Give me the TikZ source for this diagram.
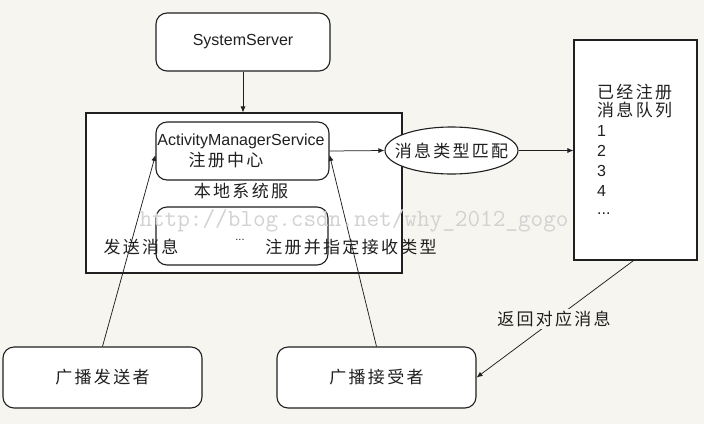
\documentclass[tikz,border=0pt]{standalone}
\usepackage{fontspec}
\setmainfont{Liberation Sans}
\newfontfamily\cjk{Noto Sans CJK SC}[LetterSpace=13.5]
\usetikzlibrary{arrows.meta,shapes.geometric}
\definecolor{bg}{HTML}{F7F5EF}
\definecolor{ink}{HTML}{202020}
\definecolor{wm}{HTML}{D2D2D2}
\begin{document}
\begin{tikzpicture}[x=1pt,y=-1pt,
  box/.style={draw=ink, line width=1.1pt, fill=white, inner sep=0pt},
  rbox/.style={box, rounded corners=11pt},
  lat/.style={font=\fontsize{16}{18}\selectfont, text=ink, inner sep=0pt},
  cn/.style={font=\cjk\fontsize{17}{19}\selectfont, text=ink, inner sep=0pt},
  conn/.style={draw=ink, line width=0.75pt, -{Latex[length=6pt,width=5pt]}},
]
\useasboundingbox[fill=bg] (0,0) rectangle (704,424);

% boxes
\node[rbox, minimum width=174pt, minimum height=58pt] (ss) at (243,42) {};
\node[box, minimum width=316pt, minimum height=160pt] (outer) at (244,193) {};
\node[rbox, minimum width=173pt, minimum height=58pt] (ams) at (242.5,151) {};
\node[rbox, minimum width=172pt, minimum height=58pt] (inner) at (242,236) {};
\node[box, minimum width=123pt, minimum height=220pt] (queue) at (635.5,150) {};
\node[rbox, minimum width=199pt, minimum height=61pt] (sender) at (102.5,377.5) {};
\node[rbox, minimum width=199pt, minimum height=61pt] (recv) at (376.5,377.5) {};

% connectors
\draw[conn] (ss.south) -- (ss.south |- outer.north);
\draw[conn] (sender.north) -- ([yshift=-4pt]ams.west);
\draw[conn] (recv.north) -- ([yshift=-4pt]ams.east);
\draw[conn] ([xshift=-2pt]queue.south) -- (recv.east);

\node[box, ellipse, minimum width=133pt, minimum height=47pt] (match) at (451.5,150.5) {};
\node[cn] (matchtxt) at (match.center) {消息类型匹配};
\draw[conn] (ams.east) -- (match.west);
\draw[conn] (match.east) -- (match.east -| queue.west);

% texts
\node[lat] (sstxt) at (243,42) {SystemServer};
\node[lat] (amstxt) at (241,141) {ActivityManagerService};
\node[cn] (regc) at (226,160) {注册中心};
\node[cn] (local) at (241,191) {本地系统服};
\node[font=\ttfamily\fontsize{24.5}{26}\selectfont, text=wm, inner sep=0pt] (wmark) at (354,221) {http://blog.csdn.net/why\_2012\_gogo};
\node[font=\fontsize{11}{12}\selectfont, text=ink, inner sep=0pt] (dots) at (240,240) {...};
\node[cn] (send) at (141,247) {发送消息};
\node[cn] (reg) at (351,247) {注册并指定接收类型};
\node[cn, fill=bg, inner sep=2pt] (ret) at (554,319) {返回对应消息};
\node[cn] (sendtxt) at (sender.center) {广播发送者};
\node[cn] (recvtxt) at (recv.center) {广播接受者};

\node[cn, anchor=west] (q1) at (597,92) {已经注册};
\node[cn, anchor=west] (q2) at (597,110) {消息队列};
\node[lat, anchor=west] (q3) at (597,131) {1};
\node[lat, anchor=west] (q4) at (597,151) {2};
\node[lat, anchor=west] (q5) at (597,171) {3};
\node[lat, anchor=west] (q6) at (597,191) {4};
\node[lat, anchor=west] (q7) at (597,214) {...};
\end{tikzpicture}
\end{document}
